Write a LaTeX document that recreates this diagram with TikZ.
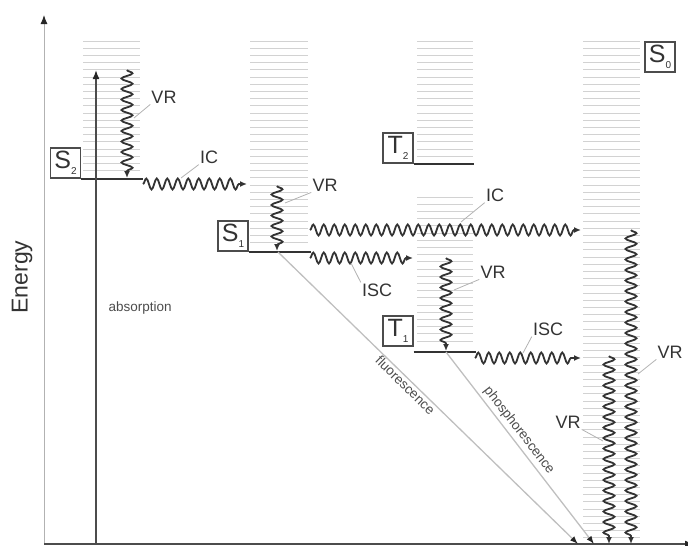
\documentclass[tikz,border=0pt]{standalone}
\usepackage{fontspec}
\setmainfont{Liberation Sans}
\usetikzlibrary{arrows.meta,decorations.pathmorphing}

\newcommand{\statename}[2]{#1\raisebox{-0.25em}{\fontsize{10}{10}\selectfont #2}}

\begin{document}
\begin{tikzpicture}[x=1pt, y=-1pt,
    band/.style={draw=gray!35, line width=0.9pt},
    level/.style={draw=black!80, line width=2pt},
    statebox/.style={rectangle, draw=black!70, line width=1.1pt, minimum size=30pt, inner sep=0pt, font=\fontsize{25}{25}\selectfont, text=black!80},
    wavy/.style={draw=black!80, line width=1.8pt, decorate, decoration={snake, amplitude=5.5pt, segment length=10.5pt, post length=5pt}, -{Latex[length=7pt,width=6pt]}},
    lab/.style={font=\fontsize{18}{20}\selectfont, text=black!80, inner sep=1pt},
    small/.style={font=\fontsize{13.5}{15}\selectfont, text=black!70},
    leader/.style={draw=gray!60, line width=0.8pt},
    emission/.style={draw=gray!50, line width=1.3pt, -{Latex[length=8pt,width=6pt,color=black!85]}},
    axis/.style={-{Latex[length=9pt,width=7pt,color=black!85]}}
  ]
    \useasboundingbox (0,0) rectangle (688,546);

    % vibrational levels
    \foreach \y in {41,48.2,...,176} \draw[band] (83,\y) -- (140,\y);
    \foreach \y in {41,48.2,...,248} \draw[band] (250,\y) -- (308,\y);
    \foreach \y in {41,48.2,...,160} \draw[band] (417,\y) -- (473,\y);
    \foreach \y in {197,204.2,...,348} \draw[band] (417,\y) -- (473,\y);
    \foreach \y in {41,48.2,...,540} \draw[band] (583,\y) -- (640,\y);

    % axes
    \coordinate (origin) at (44,544);
    \coordinate (ytop) at (44,15);
    \coordinate (xend) at (694,544);
    \draw[axis, gray!60, line width=1pt] (origin) -- (ytop);
    \draw[axis, black!70, line width=1.5pt] (origin) -- (xend);
    \node[rotate=90, font=\fontsize{23}{24}\selectfont, text=black!80] (energy) at (22,277) {Energy};

    % states
    \node[statebox] (S2) at (65.5,163) {\statename{S}{2}};
    \node[statebox] (S1) at (233,236) {\statename{S}{1}};
    \node[statebox] (T2) at (398,148) {\statename{T}{2}};
    \node[statebox] (T1) at (398,331) {\statename{T}{1}};
    \node[statebox] (S0) at (660,57) {\statename{S}{0}};
    \draw[level] (S2.south east) -- +(62,0);
    \draw[level] (S1.south east) -- +(62,0);
    \draw[level] (T2.south east) -- +(60,0);
    \draw[level] (T1.south east) ++(0,5) -- +(62,0);

    % absorption
    \coordinate (absb) at (96,544);
    \coordinate (abst) at (96,70);
    \draw[axis, black!70, line width=1.5pt] (absb) -- (abst);
    \node[small, anchor=west] (abs) at (105,308) {absorption};

    % wavy transitions
    \coordinate (vrS2a) at (127,70);   \coordinate (vrS2b) at (127,178);
    \coordinate (icS2a) at (143,184);  \coordinate (icS2b) at (247,184);
    \coordinate (vrS1a) at (277,186);  \coordinate (vrS1b) at (277,251);
    \coordinate (icS1a) at (310,230);  \coordinate (icS1b) at (581,230);
    \coordinate (iscS1a) at (310,258); \coordinate (iscS1b) at (413,258);
    \coordinate (vrT1a) at (446,258);  \coordinate (vrT1b) at (446,351);
    \coordinate (iscT1a) at (475,358); \coordinate (iscT1b) at (581,358);
    \coordinate (vrS0a) at (609,356);  \coordinate (vrS0b) at (609,544);
    \coordinate (vrS0c) at (631,230);  \coordinate (vrS0d) at (631,544);
    \draw[wavy] (vrS2a) -- (vrS2b);
    \draw[wavy] (icS2a) -- (icS2b);
    \draw[wavy] (vrS1a) -- (vrS1b);
    \draw[wavy] (icS1a) -- (icS1b);
    \draw[wavy] (iscS1a) -- (iscS1b);
    \draw[wavy] (vrT1a) -- (vrT1b);
    \draw[wavy] (iscT1a) -- (iscT1b);
    \draw[wavy] (vrS0a) -- (vrS0b);
    \draw[wavy] (vrS0c) -- (vrS0d);

    % labels
    \node[lab] (lvrS2) at (164,97) {VR};
    \node[lab] (licS2) at (209,157) {IC};
    \node[lab] (lvrS1) at (325,185) {VR};
    \node[lab] (licS1) at (495,195) {IC};
    \node[lab] (liscS1) at (377,290) {ISC};
    \node[lab] (lvrT1) at (493,272) {VR};
    \node[lab] (liscT1) at (548,329) {ISC};
    \node[lab] (lvrS0r) at (670,352) {VR};
    \node[lab] (lvrS0l) at (568,422) {VR};
    \coordinate (pvrS2) at (134,118);
    \coordinate (picS2) at (181,178);
    \coordinate (pvrS1) at (285,203);
    \coordinate (picS1) at (461,222);
    \coordinate (piscS1) at (351,263);
    \coordinate (pvrT1) at (454,290);
    \coordinate (piscT1) at (523,353);
    \coordinate (pvrS0r) at (638,374);
    \coordinate (pvrS0l) at (603,441);
    \draw[leader] (lvrS2.south west) -- (pvrS2);
    \draw[leader] (licS2.south west) -- (picS2);
    \draw[leader] (lvrS1.south west) -- (pvrS1);
    \draw[leader] (licS1.south west) -- (picS1);
    \draw[leader] (liscS1.north west) -- (piscS1);
    \draw[leader] (lvrT1.south west) -- (pvrT1);
    \draw[leader] (liscT1.south west) -- (piscT1);
    \draw[leader] (lvrS0r.south west) -- (pvrS0r);
    \draw[leader] (lvrS0l.south east) -- (pvrS0l);

    % emission
    \coordinate (fl0) at (278,252);
    \coordinate (fl1) at (578,544);
    \coordinate (ph0) at (446,352);
    \coordinate (ph1) at (594,544);
    \draw[emission] (fl0) -- node[small, sloped, below, pos=0.44, inner sep=1pt] (flu) {fluorescence} (fl1);
    \draw[emission] (ph0) -- node[small, sloped, above, pos=0.44, inner sep=3pt] (pho) {phosphorescence} (ph1);
  \end{tikzpicture}
\end{document}
